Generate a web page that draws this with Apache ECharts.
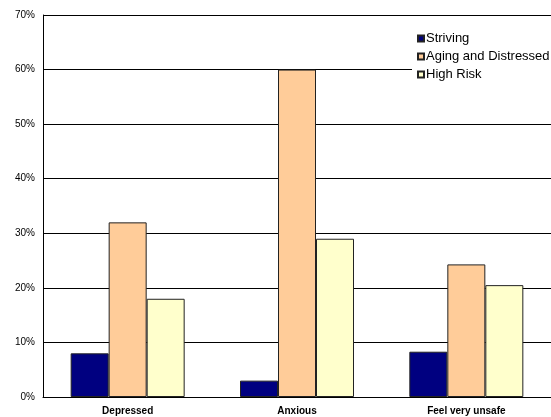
<!DOCTYPE html>
<html>
<head>
<meta charset="utf-8">
<script src="https://cdn.jsdelivr.net/npm/echarts@6/dist/echarts.min.js"></script>
<style>
  html, body { margin: 0; padding: 0; background: #fff; }
  #chart { width: 551px; height: 417px; }
</style>
</head>
<body>
<div id="chart"></div>
<script>
// Groups along the x axis
const categories = ['Depressed', 'Anxious', 'Feel very unsafe'];

// Share of each segment (percent)
const striving = [8, 3, 8.3];
const agingDistressed = [32, 60, 24.3];
const highRisk = [18, 29, 20.5];

const seriesNames = ['Striving', 'Aging and Distressed', 'High Risk'];
const seriesColors = ['#000080', '#FFCC99', '#FFFFCC'];

// Y axis range and step (percent)
const yMin = 0;
const yMax = 70;
const yStep = 10;

const font = "'Liberation Sans', Arial, sans-serif";

function barSeries(name, data, color) {
  return {
    name: name,
    type: 'bar',
    data: data,
    barWidth: 38,
    barGap: '0%',
    itemStyle: {
      color: color,
      borderColor: '#222',
      borderWidth: 1
    },
    emphasis: { disabled: true }
  };
}

const chart = echarts.init(document.getElementById('chart'), null, { renderer: 'canvas' });
chart.setOption({
  animation: false,
  backgroundColor: '#fff',
  textStyle: { fontFamily: font },
  grid: { left: 43, top: 15, width: 511, bottom: 20, containLabel: false },
  legend: {
    orient: 'vertical',
    left: 412,
    top: 27,
    padding: [5, 4, 5, 5],
    backgroundColor: '#fff',
    itemWidth: 6,
    itemHeight: 6,
    itemGap: 5,
    icon: 'rect',
    textStyle: { fontSize: 13, color: '#000', fontFamily: font, padding: [0, 0, 0, -3] },
    data: seriesNames
  },
  xAxis: {
    type: 'category',
    data: categories,
    axisLine: { lineStyle: { color: '#000', width: 1 } },
    axisTick: { show: false },
    axisLabel: { fontSize: 10, fontWeight: 'bold', color: '#000', margin: 9, fontFamily: font }
  },
  yAxis: {
    type: 'value',
    min: yMin,
    max: yMax,
    interval: yStep,
    axisLine: { show: true, lineStyle: { color: '#000', width: 1 } },
    axisTick: { show: false },
    splitLine: { lineStyle: { color: '#000', width: 1 } },
    axisLabel: { formatter: '{value}%', fontSize: 10, color: '#000', margin: 8, fontFamily: font }
  },
  series: [
    barSeries(seriesNames[0], striving, seriesColors[0]),
    barSeries(seriesNames[1], agingDistressed, seriesColors[1]),
    barSeries(seriesNames[2], highRisk, seriesColors[2])
  ]
});
</script>
</body>
</html>
